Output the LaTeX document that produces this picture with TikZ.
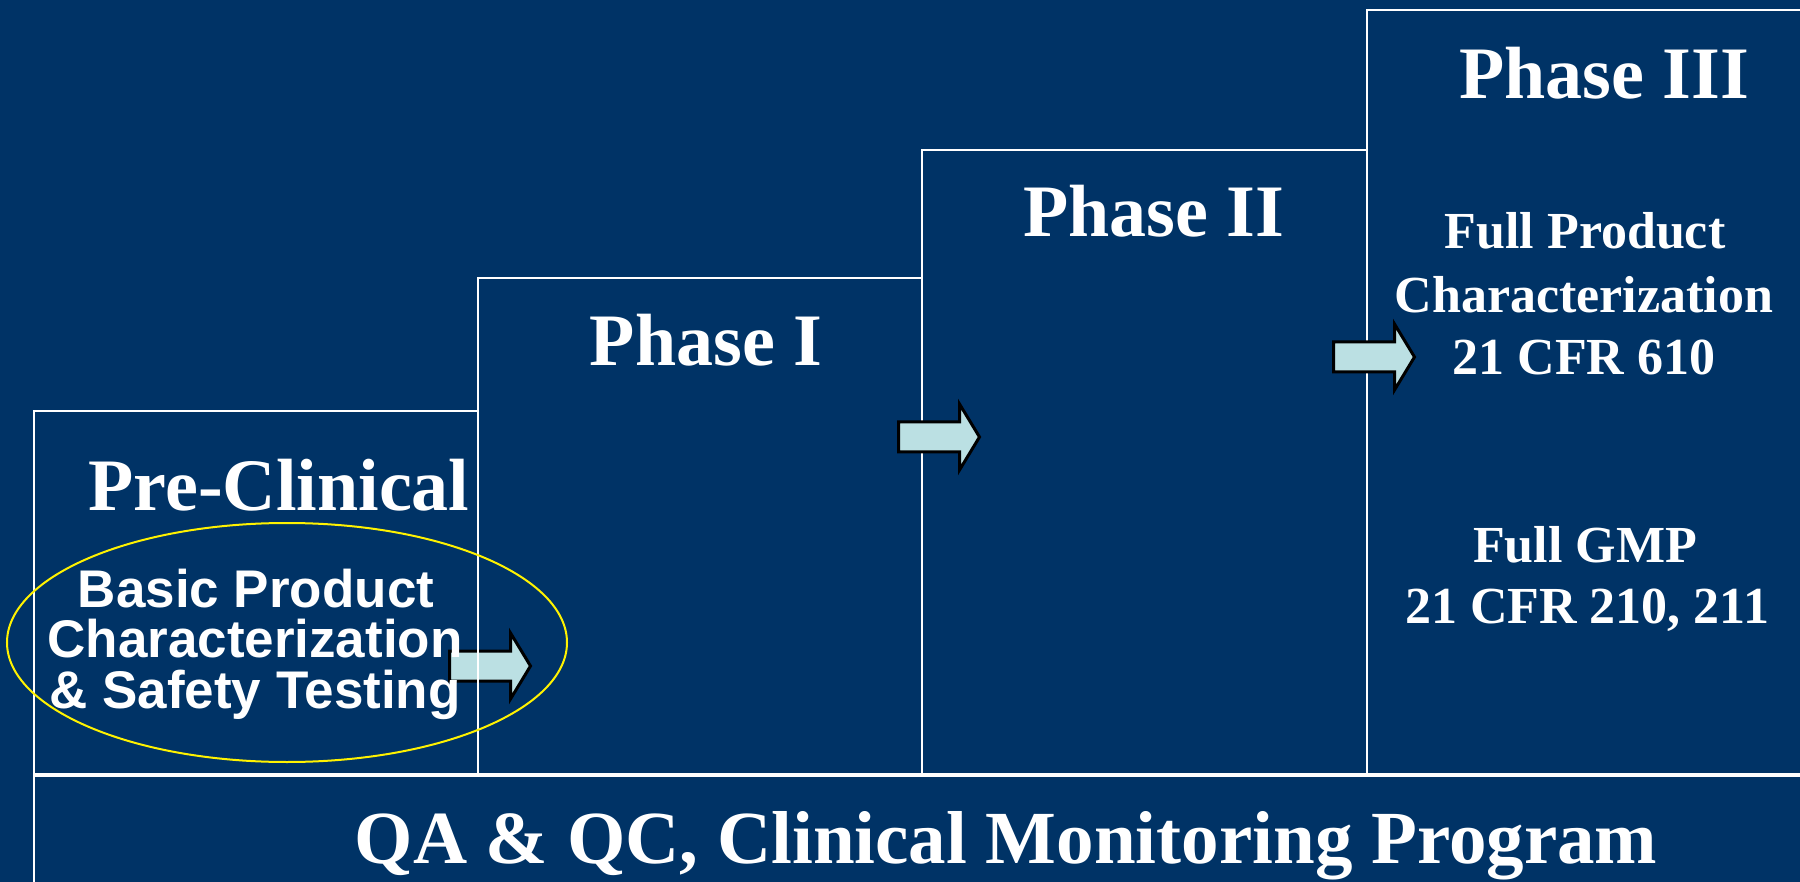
\documentclass[tikz,border=0pt]{standalone}
\usepackage{fontspec}
\setmainfont{Liberation Serif}
\newfontfamily\sansbold{Liberation Sans}
\usetikzlibrary{shapes.geometric}
\definecolor{bgnavy}{RGB}{0,51,102}
\definecolor{arrowfill}{RGB}{187,224,227}
\begin{document}
\begin{tikzpicture}[x=1pt,y=-1pt,
  boxline/.style={draw=white, line width=2pt},
  serifbig/.style={text=white, inner sep=0pt, anchor=base, font=\bfseries\fontsize{74}{88}\selectfont},
  serifmid/.style={text=white, inner sep=0pt, anchor=base, font=\bfseries\fontsize{52}{62}\selectfont},
  sansmid/.style={text=white, inner sep=0pt, anchor=base, font=\sansbold\bfseries\fontsize{53}{62}\selectfont},
  arrowstyle/.style={draw=black, fill=arrowfill, line width=3pt, miter limit=10},
  pics/blockarrow/.style={code={
    \draw[arrowstyle] (0,-15) -- (61,-15) -- (61,-33) -- (81,0) -- (61,33) -- (61,15) -- (0,15) -- cycle;}},
]
\useasboundingbox (0,0) rectangle (1800,882);
\fill[bgnavy] (0,0) rectangle (1800,882);

% arrow under the Phase I box line
\pic (arrowA) at (449.5,666) {blockarrow};

% boxes
\draw[boxline] (34,411) rectangle (478,774);
\draw[boxline] (478,278) rectangle (922,774);
\draw[boxline] (922,150) rectangle (1367,774);
\draw[boxline] (1367,10) rectangle (1812,774);
\draw[boxline] (34,776) rectangle (1812,895);

% headings
\node[serifbig] (preclin) at (279,511) {Pre-Clinical};
\node[serifbig] (ph1) at (706,366) {Phase I};
\node[serifbig] (ph2) at (1154,237) {Phase II};
\node[serifbig] (ph3) at (1604,99) {Phase III};

% phase III contents
\node[serifmid] (fp1) at (1585,249) {Full Product};
\node[serifmid] (fp2) at (1584,313) {Characterization};
\node[serifmid] (fp3) at (1584,375) {21 CFR 610};
\node[serifmid] (gmp1) at (1585,562) {Full GMP};
\node[serifmid] (gmp2) at (1587,623) {21 CFR 210, 211};

% pre-clinical contents
\node[sansmid] (bp1) at (256,607) {Basic Product};
\node[sansmid] (bp2) at (255,657) {Characterization};
\node[sansmid] (bp3) at (255,708) {\& Safety Testing};
\node[ellipse, draw=yellow, line width=2pt, minimum width=560, minimum height=239, inner sep=0pt] (oval) at (287,642.5) {};

% other arrows
\pic (arrowB) at (898.5,437) {blockarrow};
\pic (arrowC) at (1333.5,357) {blockarrow};

% bottom band
\node[serifbig, font=\bfseries\fontsize{75}{88}\selectfont] (qa) at (1006,863) {QA \& QC, Clinical Monitoring Program};
\end{tikzpicture}
\end{document}
